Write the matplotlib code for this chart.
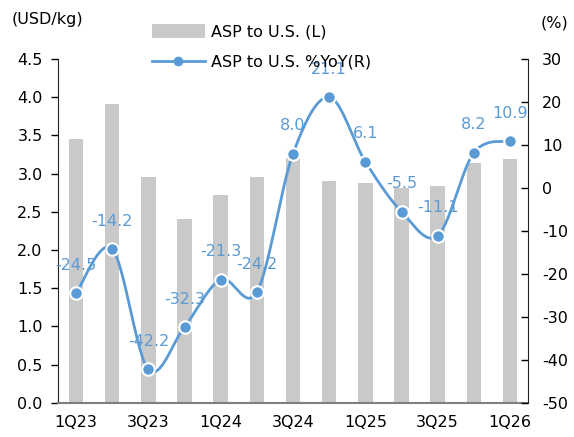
import numpy as np
import matplotlib
matplotlib.use('Agg')
import matplotlib.pyplot as plt
from matplotlib.lines import Line2D
from matplotlib.patches import Patch

#%% dados
quarters = ['1Q23', '2Q23', '3Q23', '4Q23', '1Q24', '2Q24', '3Q24',
            '4Q24', '1Q25', '2Q25', '3Q25', '4Q25', '1Q26']
asp_usd_kg = [3.45, 3.91, 2.96, 2.40, 2.72, 2.96, 3.20,
              2.90, 2.88, 2.81, 2.84, 3.14, 3.19]
asp_yoy = [-24.5, -14.2, -42.2, -32.3, -21.3, -24.2, 8.0,
           21.1, 6.1, -5.5, -11.1, 8.2, 10.9]

bar_color = '#C9C9C9'
line_color = '#5B9BD5'
fs = 11.5

plt.rcParams['font.family'] = ['DejaVu Sans']


def smooth_curve(x, y, n=30):
    # curva suavizada tipo Excel (bezier com tangente catmull-rom)
    x = np.asarray(x, float)
    y = np.asarray(y, float)
    xs, ys = [], []
    for i in range(len(x) - 1):
        p0 = np.array([x[max(i - 1, 0)], y[max(i - 1, 0)]])
        p1 = np.array([x[i], y[i]])
        p2 = np.array([x[i + 1], y[i + 1]])
        p3 = np.array([x[min(i + 2, len(x) - 1)], y[min(i + 2, len(x) - 1)]])
        c1 = p1 + (p2 - p0) / 6
        c2 = p2 - (p3 - p1) / 6
        t = np.linspace(0, 1, n)[:, None]
        pts = ((1 - t) ** 3) * p1 + 3 * ((1 - t) ** 2) * t * c1 + 3 * (1 - t) * t ** 2 * c2 + t ** 3 * p2
        xs.extend(pts[:, 0])
        ys.extend(pts[:, 1])
    return np.array(xs), np.array(ys)


#%% figura
fig = plt.figure(figsize=(5.74, 4.37), dpi=100)
ax = fig.add_axes([0.101, 0.078, 0.819, 0.787])
x = np.arange(len(quarters))

ax.bar(x, asp_usd_kg, width=0.4, color=bar_color, zorder=1)
ax.set_xlim(-0.5, len(quarters) - 0.5)
ax.set_ylim(0, 4.5)
ax.set_yticks(np.arange(0, 4.51, 0.5))
ax.set_yticklabels([f'{v:.1f}' for v in np.arange(0, 4.51, 0.5)], fontsize=fs)
ax.set_xticks(x[::2])
ax.set_xticklabels(quarters[::2], fontsize=fs)
ax.tick_params(axis='x', length=0, pad=9)
ax.tick_params(axis='y', direction='out', length=5, width=1, pad=6)

ax.spines['top'].set_visible(False)
ax.spines['right'].set_visible(False)
ax.spines['bottom'].set_color('#7F7F7F')
ax.spines['bottom'].set_linewidth(1.5)
ax.spines['left'].set_color('#222222')

ax2 = ax.twinx()
ax2.set_ylim(-50, 30)
ax2.set_yticks(np.arange(-50, 31, 10))
ax2.set_yticklabels([str(v) for v in range(-50, 31, 10)], fontsize=fs)
ax2.tick_params(axis='y', direction='in', length=5, width=1, pad=10)
ax2.spines['top'].set_visible(False)
ax2.spines['left'].set_visible(False)
ax2.spines['bottom'].set_visible(False)
ax2.spines['right'].set_color('#222222')

sx, sy = smooth_curve(x, asp_yoy)
ax2.plot(sx, sy, color=line_color, lw=2, zorder=3)
ax2.plot(x, asp_yoy, ls='none', marker='o', ms=9, mfc=line_color,
         mec='white', mew=1.5, zorder=4)

for xi, v in zip(x, asp_yoy):
    ax2.annotate(f'{v:.1f}', (xi, v), xytext=(0, 20), textcoords='offset points',
                 ha='center', va='center', color=line_color, fontsize=fs, zorder=5)

# textos das unidades
fig.text(0.02, 0.955, '(USD/kg)', fontsize=fs, va='center', ha='left')
fig.text(0.99, 0.948, '(%)', fontsize=fs, va='center', ha='right')

handles = [Patch(facecolor=bar_color, edgecolor='none'),
           Line2D([0], [0], color=line_color, lw=2, marker='o', ms=6,
                  mfc=line_color, mec=line_color)]
fig.legend(handles, ['ASP to U.S. (L)', 'ASP to U.S. %YoY(R)'],
           loc='upper left', bbox_to_anchor=(0.245, 0.97), frameon=False,
           fontsize=fs, handlelength=3.3, handleheight=0.9, labelspacing=0.95,
           handletextpad=0.4, borderpad=0.2)

plt.savefig('out.png', dpi=100, facecolor='white')
